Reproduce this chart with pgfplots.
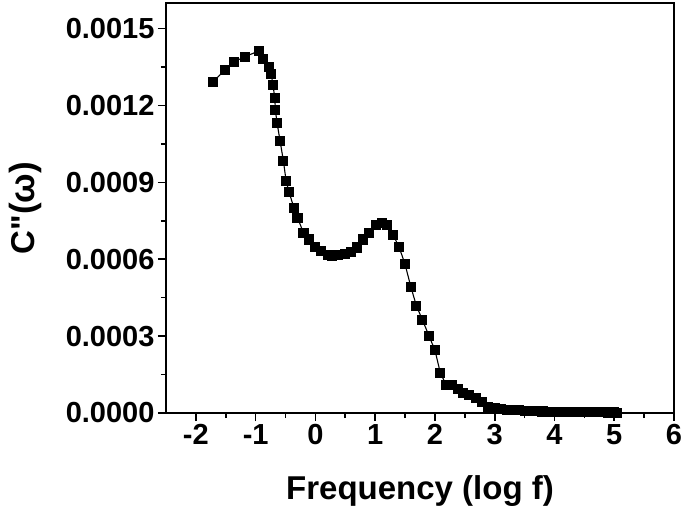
\documentclass[border=0pt]{standalone}
\usepackage{fontspec}
\setmainfont{Liberation Sans}
\usepackage{pgfplots}
\pgfplotsset{compat=1.18}

\begin{document}
\begin{tikzpicture}
\begin{axis}[
  name=ax,
  scale only axis, width=508pt, height=410pt,
  xmin=-2.5, xmax=6, ymin=0, ymax=0.0016,
  xtick={-2,-1,0,1,2,3,4,5,6},
  xticklabels={-2,-1,0,1,2,3,4,5,6},
  ytick={0,0.0003,0.0006,0.0009,0.0012,0.0015},
  yticklabels={0.0000,0.0003,0.0006,0.0009,0.0012,0.0015},
  minor x tick num=1, minor y tick num=1,
  xtick pos=lower, ytick pos=left,
  tick align=outside,
  major tick length=8pt, minor tick length=5pt,
  every tick/.append style={line width=1.6pt, black},
  axis line style={line width=2.6pt},
  tick label style={font=\fontsize{29}{32}\selectfont\bfseries},
  label style={font=\fontsize{33}{38}\selectfont\bfseries},
  xlabel={Frequency (log f)},
  ylabel={C\textquotedbl\fontsize{35}{38}\selectfont(ω)},
  xlabel style={at={(axis description cs:0.5,-0.2098)}, anchor=base},
  ylabel style={at={(axis description cs:-0.2776,0.5)}, anchor=center},
  clip=false,
]
\addplot[black, line width=1.1pt, mark=square*, mark size=4.5pt,
  mark options={solid, fill=black}] table {
x y
-1.72 0.001291
-1.51 0.001340
-1.36 0.001370
-1.18 0.001391
-0.95 0.001412
-0.87 0.001382
-0.77 0.001352
-0.74 0.001323
-0.71 0.001281
-0.68 0.001230
-0.67 0.001181
-0.64 0.001130
-0.59 0.001060
-0.535 0.000983
-0.49 0.000905
-0.44 0.000861
-0.36 0.000801
-0.30 0.000762
-0.20 0.000704
-0.10 0.000677
-0.01 0.000648
0.10 0.000632
0.21 0.000616
0.28 0.000613
0.38 0.000617
0.49 0.000622
0.59 0.000628
0.69 0.000646
0.79 0.000677
0.90 0.000704
1.01 0.000735
1.11 0.000743
1.20 0.000735
1.30 0.000695
1.40 0.000648
1.50 0.000580
1.60 0.000490
1.69 0.000418
1.79 0.000364
1.90 0.000301
2.00 0.000245
2.09 0.000157
2.19 0.000108
2.29 0.000108
2.38 0.000094
2.47 0.000077
2.57 0.000070
2.69 0.000057
2.79 0.000044
2.89 0.000025
3.00 0.000018
3.10 0.000015
3.20 0.000013
3.30 0.000011
3.40 0.000010
3.50 0.000009
3.60 0.000008
3.70 0.000007
3.80 0.000006
3.90 0.0000055
4.00 0.000005
4.10 0.0000045
4.20 0.000004
4.30 0.0000036
4.40 0.0000033
4.50 0.000003
4.60 0.0000027
4.70 0.0000024
4.80 0.0000022
4.90 0.000002
5.00 0.0000018
5.05 0.0000017
};
\end{axis}
\draw[line width=2.6pt] (ax.south west) rectangle (ax.north east);
\pgfresetboundingbox
\path ([xshift=-166pt,yshift=-99pt]ax.south west) rectangle ([xshift=11pt,yshift=3pt]ax.north east);
\end{tikzpicture}
\end{document}
